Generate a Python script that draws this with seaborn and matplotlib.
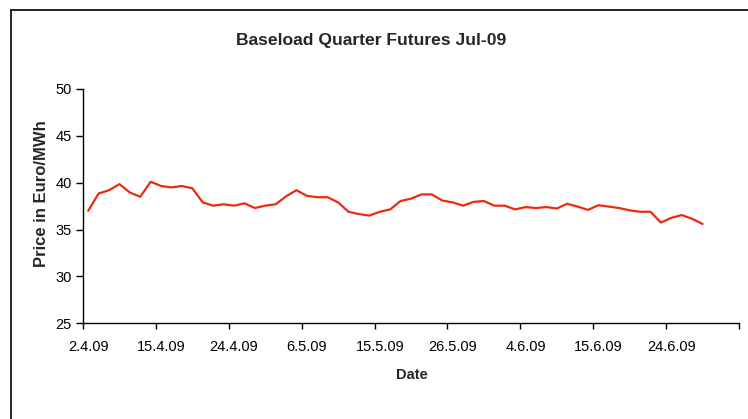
import matplotlib
matplotlib.use("Agg")
import matplotlib.pyplot as plt
import matplotlib.lines as mlines
import seaborn as sns
import numpy as np
import pandas as pd

# ---- data ----
tick_labels = ["2.4.09", "15.4.09", "24.4.09", "6.5.09", "15.5.09",
               "26.5.09", "4.6.09", "15.6.09", "24.6.09"]
label_every = 7
n_categories = 63

prices = [37.0, 38.85, 39.2, 39.85, 38.95, 38.5, 40.1, 39.65, 39.5, 39.65,
          39.4, 37.9, 37.55, 37.7, 37.55, 37.8, 37.3, 37.55, 37.7, 38.55,
          39.2, 38.6, 38.45, 38.45, 37.9, 36.9, 36.65, 36.5, 36.9, 37.15,
          38.05, 38.3, 38.75, 38.75, 38.1, 37.9, 37.55, 37.95, 38.05, 37.55,
          37.55, 37.15, 37.4, 37.3, 37.4, 37.25, 37.75, 37.45, 37.1, 37.6,
          37.45, 37.3, 37.05, 36.9, 36.9, 35.75, 36.25, 36.55, 36.15, 35.6]

df = pd.DataFrame({"idx": np.arange(len(prices)), "price": prices})

sns.set_theme(style="white")
plt.rcParams["font.family"] = ["Liberation Sans", "DejaVu Sans"]

W, H = 748, 419
fig = plt.figure(figsize=(W / 100, H / 100), dpi=100)
ax = fig.add_axes([83 / W, 1 - 323.3 / H, (739 - 83) / W, (323.3 - 89) / H])

sns.lineplot(data=df, x="idx", y="price", ax=ax, color="#EE2A0E",
             linewidth=1.6, legend=False)

ax.set_xlim(-0.5, n_categories - 0.5)
ax.set_ylim(25, 50)
ax.set_yticks(np.arange(25, 51, 5))

# tick marks at category boundaries, labels at category centres
ax.set_xticks([-0.5 + label_every * k for k in range(len(tick_labels) + 1)])
ax.set_xticklabels([])
ax.set_xticks([label_every * k for k in range(len(tick_labels))], minor=True)
ax.set_xticklabels(tick_labels, minor=True)
ax.tick_params(axis="x", which="major", direction="out", length=4, width=1,
               color="black", bottom=True)
ax.tick_params(axis="x", which="minor", length=0, pad=12, labelsize=10.5,
               labelcolor="black", bottom=True)
ax.tick_params(axis="y", direction="out", length=5, width=1, color="black",
               left=True, labelsize=10.5, labelcolor="black", pad=3)

for s in ["top", "right"]:
    ax.spines[s].set_visible(False)
for s in ["left", "bottom"]:
    ax.spines[s].set_color("black")
    ax.spines[s].set_linewidth(1)

ax.set_xlabel("")
ax.set_ylabel("")

fig.text(371 / W, 1 - 41 / H, "Baseload Quarter Futures Jul-09",
         ha="center", va="center", fontsize=12.6, fontweight="bold")
fig.text(42 / W, 1 - 194 / H, "Price in Euro/MWh", rotation=90,
         ha="center", va="center", fontsize=12, fontweight="bold")
fig.text(411.5 / W, 1 - 375 / H, "Date", ha="center", va="center",
         fontsize=10.5, fontweight="bold")

# chart-area border (left and top edges visible)
fig.add_artist(mlines.Line2D([11 / W, 11 / W], [0, 1 - 10.5 / H],
                             transform=fig.transFigure, color="black", lw=1.2))
fig.add_artist(mlines.Line2D([11 / W, 1], [1 - 10.5 / H, 1 - 10.5 / H],
                             transform=fig.transFigure, color="black", lw=1.2))

fig.savefig("out.png", dpi=100)
